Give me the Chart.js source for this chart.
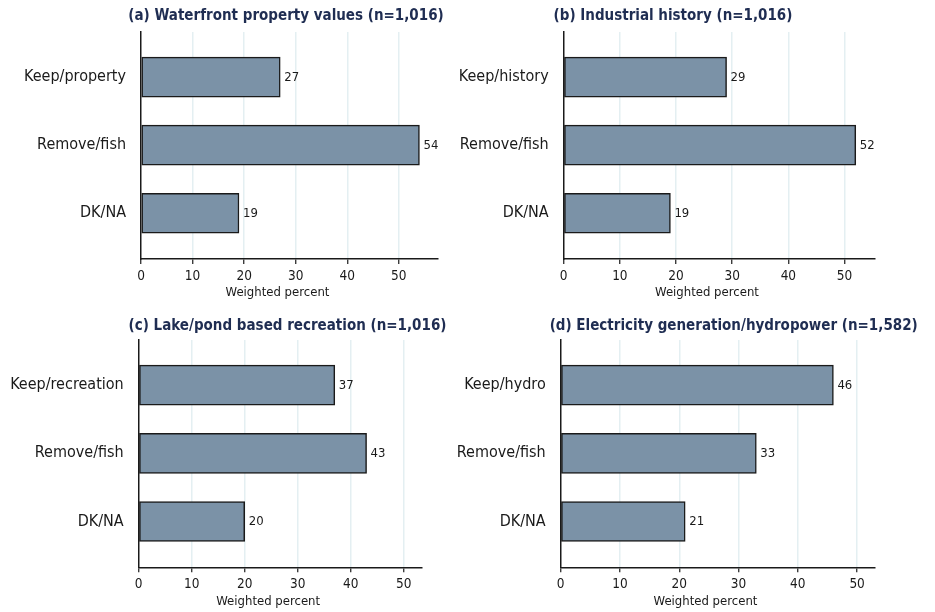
<!DOCTYPE html>
<html>
<head>
<meta charset="utf-8">
<script src="https://cdn.jsdelivr.net/npm/chart.js@4/dist/chart.umd.min.js"></script>
<style>
  html, body { margin: 0; padding: 0; background: #ffffff; overflow: hidden; }
  canvas { position: absolute; }
</style>
</head>
<body>
<canvas id="panelA" width="467" height="306" style="left:0;top:0"></canvas>
<canvas id="panelB" width="495" height="306" style="left:440px;top:0"></canvas>
<canvas id="panelC" width="467" height="306" style="left:0;top:306px"></canvas>
<canvas id="panelD" width="495" height="306" style="left:440px;top:306px"></canvas>
<script>
// Survey responses: weighted percent choosing each option, by dam-related value
const titleA = '(a) Waterfront property values (n=1,016)';
const titleB = '(b) Industrial history (n=1,016)';
const titleC = '(c) Lake/pond based recreation (n=1,016)';
const titleD = '(d) Electricity generation/hydropower (n=1,582)';

const categoriesA = ['Keep/property', 'Remove/fish', 'DK/NA'];
const categoriesB = ['Keep/history', 'Remove/fish', 'DK/NA'];
const categoriesC = ['Keep/recreation', 'Remove/fish', 'DK/NA'];
const categoriesD = ['Keep/hydro', 'Remove/fish', 'DK/NA'];

const valuesA = [27, 54, 19];
const valuesB = [29, 52, 19];
const valuesC = [37, 43, 20];
const valuesD = [46, 33, 21];

const xTickValues = [0, 10, 20, 30, 40, 50];
const xAxisLabel = 'Weighted percent';

const FONT = '"Liberation Sans Narrow", "Arial Narrow", "DejaVu Sans Condensed", sans-serif';
const BAR_FILL = '#7b92a7';
const INK = '#1a1a1a';
const TITLE_INK = '#1f2d52';
const GRID = '#e4eff2';

// Draws the panel heading, the x-axis caption and the value next to each bar
const panelText = {
  id: 'panelText',
  afterDatasetsDraw(chart, args, opts) {
    const { ctx, chartArea } = chart;
    ctx.save();
    // value labels
    ctx.font = '13px ' + FONT;
    ctx.fillStyle = INK;
    ctx.textAlign = 'left';
    ctx.textBaseline = 'middle';
    const meta = chart.getDatasetMeta(0);
    const data = chart.data.datasets[0].data;
    meta.data.forEach((bar, i) => {
      ctx.fillText(String(data[i].x), bar.x + 4, bar.y + 0.5);
    });
    // heading
    ctx.font = 'bold 15px ' + FONT;
    ctx.fillStyle = TITLE_INK;
    ctx.textAlign = 'center';
    ctx.fillText(opts.title, opts.titleX, opts.titleY);
    // x-axis caption
    ctx.font = '13px ' + FONT;
    ctx.fillStyle = INK;
    ctx.fillText(opts.caption, (chartArea.left + chartArea.right) / 2 - 12, chartArea.bottom + 34);
    ctx.restore();
  }
};

function makePanel(id, title, categories, values, opt) {
  const points = values.map((v, i) => ({ x: v, y: i }));
  return new Chart(document.getElementById(id), {
    type: 'bar',
    data: {
      datasets: [{
        data: points,
        backgroundColor: BAR_FILL,
        borderColor: INK,
        borderWidth: 1.5,
        borderSkipped: false,
        barThickness: 40
      }]
    },
    plugins: [panelText],
    options: {
      indexAxis: 'y',
      responsive: false,
      animation: false,
      events: [],
      layout: { padding: { left: 0, top: opt.top, right: opt.right, bottom: opt.bottom } },
      plugins: {
        legend: { display: false },
        tooltip: { enabled: false },
        panelText: { title: title, titleX: opt.titleX, titleY: opt.titleY, caption: xAxisLabel }
      },
      scales: {
        x: {
          type: 'linear',
          min: 0,
          max: opt.xMax,
          afterBuildTicks: (scale) => { scale.ticks = xTickValues.map(v => ({ value: v })); },
          afterFit: (scale) => { scale.height = 22; },
          grid: {
            color: (c) => (c.tick && c.tick.value === 0) ? 'rgba(0,0,0,0)' : GRID,
            lineWidth: 1.5,
            drawTicks: true,
            tickLength: 5,
            tickColor: INK,
            tickWidth: 1.2
          },
          border: { display: true, color: INK, width: 1.5 },
          ticks: {
            autoSkip: false,
            maxRotation: 0,
            padding: 4,
            color: INK,
            font: { family: FONT, size: 13.5 }
          }
        },
        y: {
          type: 'linear',
          offset: false,
          reverse: true,
          min: -0.662,
          max: 2.672,
          afterBuildTicks: (scale) => { scale.ticks = categories.map((c, i) => ({ value: i })); },
          afterFit: (scale) => { scale.width = opt.left; },
          grid: { display: false, drawTicks: false, offset: false },
          border: { display: true, color: INK, width: 1.5 },
          ticks: {
            padding: 15,
            color: INK,
            font: { family: FONT, size: 16 },
            callback: (v) => categories[v]
          }
        }
      }
    }
  });
}

makePanel('panelA', titleA, categoriesA, valuesA,
  { left: 141, right: 29, top: 32, bottom: 25, xMax: 57.6, titleX: 286, titleY: 16.5 });
makePanel('panelB', titleB, categoriesB, valuesB,
  { left: 123.7, right: 60.7, top: 32, bottom: 25, xMax: 55.3, titleX: 233, titleY: 16.5 });
makePanel('panelC', titleC, categoriesC, valuesC,
  { left: 138.7, right: 45.3, top: 34, bottom: 22.7, xMax: 53.4, titleX: 287.5, titleY: 20.5 });
makePanel('panelD', titleD, categoriesD, valuesD,
  { left: 120.7, right: 60.7, top: 34, bottom: 22.7, xMax: 52.9, titleX: 293.7, titleY: 20.5 });
</script>
</body>
</html>
